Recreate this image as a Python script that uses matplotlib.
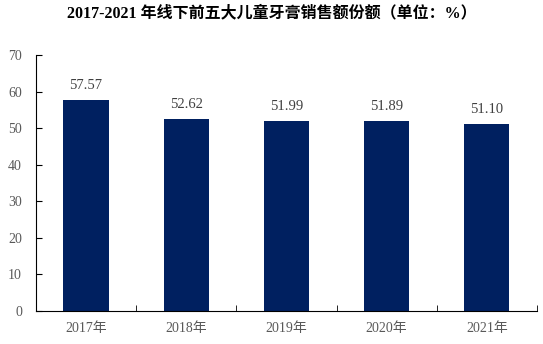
import matplotlib.pyplot as plt
import numpy as np

plt.rcParams['font.family'] = ['Liberation Serif', 'Noto Sans CJK SC']

years = ['2017年', '2018年', '2019年', '2020年', '2021年']
shares = [57.57, 52.62, 51.99, 51.89, 51.10]

fig = plt.figure(figsize=(5.43, 3.44), dpi=100)
ax = fig.add_axes([0.066, 0.096, 0.923, 0.744])

x = np.arange(len(years))
ax.bar(x, shares, width=0.45, color='#002060')
for xi, v in zip(x, shares):
    ax.text(xi, v + 2.2, f'{v:.2f}', ha='center', va='bottom', fontsize=10.5, color='#404040')

ax.set_xlim(-0.5, len(years) - 0.5)
ax.set_ylim(0, 70)
ax.set_yticks(range(0, 71, 10))
ax.set_xticks(x)
ax.set_xticklabels(years)
ax.set_xticks(np.arange(-0.5, len(years)), minor=True)
ax.tick_params(axis='x', which='major', length=0, pad=8, labelsize=10, labelcolor='#595959')
ax.tick_params(axis='x', which='minor', direction='in', length=4)
ax.tick_params(axis='y', direction='in', length=4, pad=10, labelsize=10, labelcolor='#595959')
ax.spines['top'].set_visible(False)
ax.spines['right'].set_visible(False)

fig.text(0.5, 0.962, '2017-2021 年线下前五大儿童牙膏销售额份额（单位：%）',
         ha='center', va='center', fontsize=11.5, fontweight='bold')

fig.savefig('out.png')
